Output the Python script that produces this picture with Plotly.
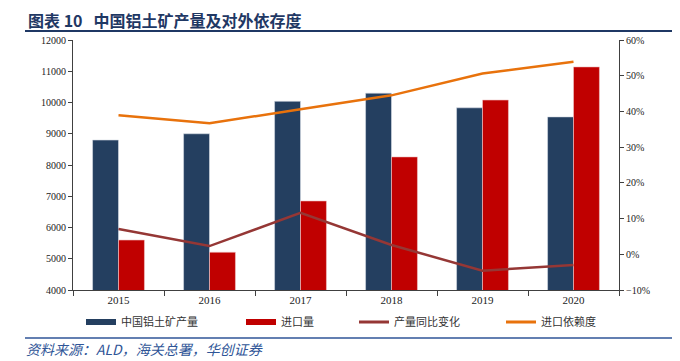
import plotly.graph_objects as go

years = ["2015", "2016", "2017", "2018", "2019", "2020"]
production = [8800, 9000, 10040, 10300, 9830, 9540]
imports = [5600, 5210, 6850, 8260, 10080, 11140]
prod_yoy = [7.1, 2.3, 11.6, 2.6, -4.6, -3.0]
import_dep = [38.9, 36.7, 40.6, 44.5, 50.6, 53.9]

names = ["中国铝土矿产量", "进口量", "产量同比变化", "进口依赖度"]
BLUE = "#243F60"
RED = "#C00000"
DRED = "#953735"
ORANGE = "#E8720C"
SERIF = "Liberation Serif, Noto Sans CJK SC"
CJK = "Noto Sans CJK SC, Liberation Serif"

OFF = 8  # page body margin in the browser
W, H = 680 - OFF, 361 - OFF
L, T = 73 - OFF, 40 - OFF
R, B = 61, 71
PW, PH = W - L - R, H - T - B


def px(x):  # screen x -> paper coordinate
    return (x - OFF - L) / PW


def py(y):  # screen y -> paper coordinate
    return 1 - (y - OFF - T) / PH


fig = go.Figure()
fig.add_trace(go.Bar(x=years, y=production, marker=dict(color=BLUE, line=dict(color="#D9DEE6", width=0.6)),
                     showlegend=False, name=names[0]))
fig.add_trace(go.Bar(x=years, y=imports, marker=dict(color=RED, line=dict(color="#F0C8C8", width=0.6)),
                     showlegend=False, name=names[1]))
fig.add_trace(go.Scatter(x=years, y=prod_yoy, yaxis="y2", mode="lines", line=dict(color=DRED, width=2.5),
                         showlegend=False, name=names[2]))
fig.add_trace(go.Scatter(x=years, y=import_dep, yaxis="y2", mode="lines", line=dict(color=ORANGE, width=2.5),
                         showlegend=False, name=names[3]))

# legend entries
leg_ids = ["legend", "legend2", "legend3", "legend4"]
leg_colors = [BLUE, RED, DRED, ORANGE]
leg_widths = [6, 6, 3, 3]
for nm, c, w, lid in zip(names, leg_colors, leg_widths, leg_ids):
    fig.add_trace(go.Scatter(x=[None], y=[None], mode="lines", line=dict(color=c, width=w),
                             name=nm, legend=lid, showlegend=True))

swatch_x = [87, 247, 360, 507]
leg_common = dict(orientation="h", xref="container", yref="container", yanchor="middle",
                  xanchor="left", font=dict(family=CJK, size=11, color="#333333"),
                  bgcolor="rgba(0,0,0,0)", itemwidth=30, tracegroupgap=0)
legends = {}
for lid, sx in zip(leg_ids, swatch_x):
    legends[lid] = dict(x=(sx - OFF - 6) / W, y=(H - (322 - OFF)) / H, **leg_common)

fig.update_layout(
    width=W, height=H,
    margin=dict(l=L, r=R, t=T, b=B, autoexpand=False),
    paper_bgcolor="white", plot_bgcolor="white",
    barmode="group", bargap=0.43, bargroupgap=0,
    font=dict(family=SERIF, size=11, color="#222222"),
    xaxis=dict(type="category", showline=True, linecolor="#404040", linewidth=1,
               ticks="outside", tickson="boundaries", ticklen=5, tickcolor="#404040",
               tickfont=dict(family=SERIF, size=11, color="#222222"), showgrid=False),
    yaxis=dict(range=[4000, 12000], dtick=1000, tickformat="d", showline=True, linecolor="#404040",
               linewidth=1, ticks="outside", ticklen=4, tickcolor="#404040", showgrid=False,
               zeroline=False, tickfont=dict(family=SERIF, size=10, color="#222222")),
    yaxis2=dict(range=[-10, 60], dtick=10, overlaying="y", side="right", showline=True,
                linecolor="#404040", linewidth=1, ticks="outside", ticklen=4, tickcolor="#404040",
                ticksuffix="%", showgrid=False, zeroline=False,
                tickfont=dict(family=SERIF, size=10, color="#222222")),
    **legends,
)

fig.add_annotation(text="<b>图表 10   中国铝土矿产量及对外依存度</b>", xref="paper", yref="paper",
                   x=px(27), y=py(20), xanchor="left", yanchor="middle", showarrow=False,
                   borderpad=0, font=dict(family="Noto Sans CJK SC", size=16, color="#1F3864"))
fig.add_annotation(text="<i>资料来源：ALD，海关总署，华创证券</i>", xref="paper", yref="paper",
                   x=px(25), y=py(349), xanchor="left", yanchor="middle", showarrow=False,
                   borderpad=0, font=dict(family="Noto Sans CJK SC", size=14, color="#2F5597"))

# title underline and bottom rule
fig.add_shape(type="line", xref="paper", yref="paper", x0=px(25), x1=px(680),
              y0=py(31), y1=py(31), line=dict(color="#1F3864", width=2))
fig.add_shape(type="line", xref="paper", yref="paper", x0=px(25), x1=px(680),
              y0=py(338), y1=py(338), line=dict(color="#2F5597", width=1.5))

fig.write_html("out.html")
